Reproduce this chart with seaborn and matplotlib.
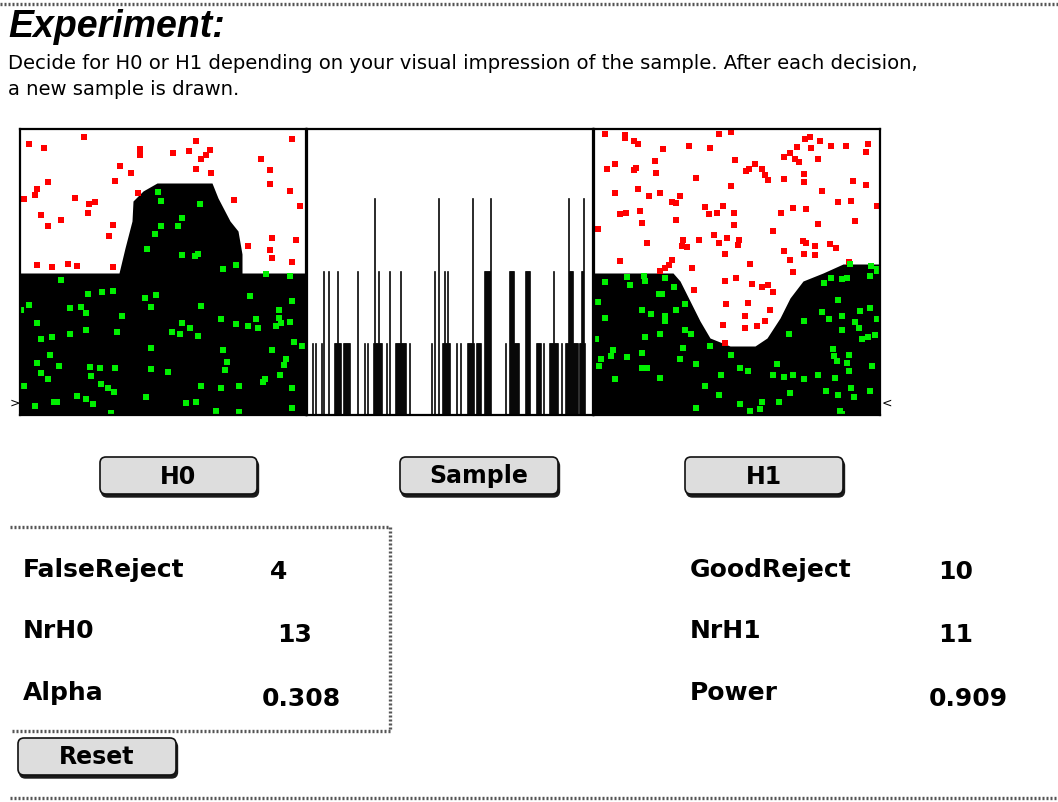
import matplotlib
matplotlib.use("Agg")
import matplotlib.pyplot as plt
from matplotlib.patches import FancyBboxPatch
import numpy as np
import pandas as pd
import seaborn as sns

# ---- data (panel pixel units, y measured from panel bottom) ----
# H0 density outline
h0_curve_x = [0, 99, 105, 112, 113, 123, 137, 192, 198, 210, 218, 222, 222, 286]
h0_curve_y = [142, 142, 167, 194, 214, 224, 232, 232, 217, 194, 184, 161, 142, 142]

# H1 density outline
h1_curve_x = [0, 79, 86, 96, 106, 116, 136, 161, 173, 186, 196, 209, 229, 249, 263, 286]
h1_curve_y = [142, 142, 134, 114, 94, 77, 69, 69, 77, 97, 117, 134, 142, 151, 151, 151]

# H0 panel: rejected (red) and accepted (green) points
h0_red_x = [9, 24, 64, 120, 120, 153, 169, 176, 190, 186, 181, 241, 272, 100, 111, 176,
            191, 250, 28, 95, 250, 17, 15, 4, 55, 118, 69, 75, 68, 214, 270, 280,
            21, 41, 28, 93, 89, 228, 252, 276, 250, 252, 17, 32, 48, 57, 93, 272]
h0_red_y = [271, 267, 278, 266, 260, 262, 264, 274, 265, 260, 256, 256, 276, 249, 242, 246,
            242, 245, 233, 234, 231, 226, 220, 216, 217, 222, 211, 213, 202, 215, 224, 209,
            200, 195, 189, 190, 179, 169, 177, 175, 165, 157, 150, 148, 151, 149, 148, 153]

h0_green_x = [138, 141, 180, 162, 158, 141, 135, 127, 162, 178, 175, 216, 203,
              246, 270, 41, 68, 82, 93, 125, 136, 230, 272, 9, 1, 50, 61, 66, 131, 181,
              259, 102, 201, 17, 162, 170, 216, 228, 236, 238, 259, 261, 256, 270, 66,
              97, 50, 32, 21, 152, 160, 178, 274, 282, 131, 203, 252, 30, 17, 39, 70,
              80, 95, 131, 148, 207, 205, 266, 264, 21, 28, 71, 245, 243, 260, 4, 81,
              88, 94, 181, 201, 219, 272, 57, 66, 73, 126, 34, 37, 15, 166, 176, 91,
              196, 219, 272]
h0_green_y = [223, 214, 211, 197, 189, 189, 181, 166, 160, 161, 159, 150, 146,
              141, 139, 135, 121, 123, 124, 117, 120, 119, 114, 110, 105, 107, 108, 102, 108, 109,
              105, 99, 96, 92, 92, 87, 91, 89, 96, 87, 97, 92, 89, 93, 85,
              83, 81, 78, 76, 83, 81, 79, 73, 69, 67, 65, 65, 60, 52, 49, 48,
              47, 47, 46, 43, 53, 45, 56, 50, 42, 36, 39, 36, 33, 40, 29, 31,
              27, 23, 29, 27, 29, 27, 19, 16, 11, 18, 13, 13, 9, 12, 13, 2,
              4, 3, 7]

# H1 panel points
h1_red_x = [11, 31, 31, 40, 44, 69, 95, 116, 125, 137, 141, 13, 21, 40, 42, 61, 62, 102,
            137, 152, 155, 161, 168, 171, 174, 190, 196, 203, 201, 205, 211, 216, 217, 226,
            237, 252, 274, 272, 224, 190, 210, 210, 228, 259, 272, 21, 44, 55, 66, 78, 82,
            86, 26, 32, 46, 48, 82, 111, 115, 123, 129, 140, 140, 187, 199, 212, 244, 257,
            283, 261, 224, 4, 179, 53, 89, 88, 93, 105, 120, 125, 133, 145, 144, 190, 209,
            212, 221, 221, 210, 236, 242, 131, 26, 78, 75, 71, 66, 98, 156, 196, 199, 255,
            131, 142, 158, 168, 174, 179, 100, 132, 154, 176, 151, 171, 129, 151, 163, 131]
h1_red_y = [281, 280, 277, 274, 271, 266, 269, 267, 281, 283, 255, 246, 251, 245, 247, 254, 242, 237,
            229, 244, 246, 251, 246, 240, 235, 258, 262, 268, 256, 253, 276, 278, 267, 274,
            269, 269, 271, 263, 256, 236, 241, 233, 224, 234, 230, 222, 226, 219, 222, 213, 212,
            219, 201, 202, 204, 192, 195, 208, 201, 202, 209, 202, 190, 202, 207, 206, 213, 214,
            209, 194, 191, 186, 184, 172, 175, 169, 168, 175, 180, 172, 177, 175, 170, 164, 174,
            172, 169, 160, 161, 171, 167, 161, 154, 155, 150, 147, 144, 147, 151, 155, 143, 153,
            134, 137, 131, 128, 130, 123, 125, 111, 112, 105, 99, 94, 90, 87, 89, 72]

h1_green_x = [11, 33, 36, 50, 51, 71, 80, 65, 68, 4, 48, 57, 71, 71, 82, 91, 11, 51, 66, 91,
              97, 2, 89, 116, 86, 102, 48, 33, 19, 17, 7, 5, 48, 53, 66, 21, 137, 146, 154,
              127, 111, 125, 102, 146, 156, 166, 168, 185, 196, 183, 179, 190, 199, 210, 224,
              241, 232, 244, 260, 257, 276, 195, 210, 228, 235, 248, 248, 244, 230, 237, 248,
              253, 276, 283, 266, 276, 283, 261, 265, 268, 274, 281, 239, 240, 243, 255, 253,
              255, 278, 246, 248, 256, 277, 283]
h1_green_y = [133, 138, 130, 139, 134, 137, 128, 121, 121, 113, 105, 101, 99, 94, 105, 111, 97, 78, 81, 85,
              81, 76, 67, 69, 56, 51, 62, 58, 65, 59, 56, 49, 47, 47, 37, 36, 60, 47, 44,
              40, 29, 20, 7, 11, 4, 6, 13, 13, 22, 51, 40, 38, 40, 36, 40,
              37, 24, 20, 18, 27, 24, 81, 94, 103, 96, 99, 85, 115, 132, 137, 136,
              137, 139, 144, 104, 107, 96, 93, 87, 76, 78, 80, 66, 59, 54, 60, 52,
              44, 49, 4, 1, 151, 149, 146]

# sample drawn (pixel position across the middle panel; repeats stack up)
sample_px = [5, 8, 14, 16, 16, 21, 21, 27, 28, 29, 30, 30, 31, 32, 33, 36, 37, 38, 39, 40, 41, 42,
             50, 50, 57, 60, 66, 67, 67, 67, 68, 69, 70, 71, 71, 72, 73, 74, 79, 82, 82,
             88, 89, 90, 91, 92, 93, 93, 94, 95, 96, 97, 98, 102, 124, 127, 127, 131, 131, 131,
             135, 136, 137, 137, 138, 139, 140, 140, 141, 142, 149, 153,
             160, 161, 162, 163, 164, 165, 165, 165, 166, 169, 170, 171, 172, 173,
             177, 177, 178, 178, 179, 179, 180, 180, 181, 181, 182, 182, 183, 183, 183,
             198, 202, 202, 203, 203, 204, 204, 205, 205, 206, 206, 207, 208, 209, 210, 211,
             218, 218, 219, 219, 220, 220, 221, 221, 222, 222, 229, 230, 231, 232, 233, 236,
             242, 243, 244, 245, 246, 246, 247, 248, 249, 250, 254,
             258, 259, 260, 261, 261, 261, 262, 262, 263, 263, 264, 264, 265, 265, 266, 267, 268, 269, 270,
             272, 273, 274, 274, 275, 275, 276, 276, 276, 277]

# counters
false_reject, nr_h0 = 4, 13
good_reject, nr_h1 = 10, 11
left_labels = ["FalseReject", "NrH0", "Alpha"]
right_labels = ["GoodReject", "NrH1", "Power"]
left_values = [str(false_reject), str(nr_h0), f"{false_reject / nr_h0:.3f}"]
right_values = [str(good_reject), str(nr_h1), f"{good_reject / nr_h1:.3f}"]
button_labels = ["H0", "Sample", "H1", "Reset"]

# ---- figure ----
sns.set_style("white")
plt.rcParams['font.family'] = ['DejaVu Sans']
plt.rcParams['text.color'] = 'black'

W, H = 1058, 802
fig = plt.figure(figsize=(W / 100, H / 100), dpi=100)
fig.patch.set_facecolor("white")

ui = fig.add_axes([0, 0, 1, 1])
ui.set_xlim(0, W)
ui.set_ylim(H, 0)
ui.axis("off")


def panel(x0):
    ax = fig.add_axes([x0 / W, (H - 415) / H, 286 / W, 286 / H])
    ax.set_facecolor("white")
    for sp in ax.spines.values():
        sp.set_visible(True)
        sp.set_color("black")
        sp.set_linewidth(1.6)
    return ax


def finish(ax, ymax):
    ax.set_xlim(0, 286)
    ax.set_ylim(0, ymax)
    ax.set_xticks([])
    ax.set_yticks([])
    ax.set_xlabel("")
    ax.set_ylabel("")


# H0 panel
ax0 = panel(20)
ax0.fill_between(h0_curve_x, 0, h0_curve_y, color="black", lw=0)
sns.scatterplot(x=h0_red_x, y=h0_red_y, ax=ax0, marker="s", s=18, color="#ff0000", linewidth=0)
sns.scatterplot(x=h0_green_x, y=h0_green_y, ax=ax0, marker="s", s=18, color="#00f000", linewidth=0)
finish(ax0, 286)

# sample panel
ax1 = panel(307)
sns.histplot(x=sample_px, binwidth=1, binrange=(0, 286), ax=ax1, color="black",
             alpha=1, edgecolor="black", linewidth=0.45)
finish(ax1, 3.96)

# H1 panel
ax2 = panel(594)
ax2.fill_between(h1_curve_x, 0, h1_curve_y, color="black", lw=0)
sns.scatterplot(x=h1_red_x, y=h1_red_y, ax=ax2, marker="s", s=18, color="#ff0000", linewidth=0)
sns.scatterplot(x=h1_green_x, y=h1_green_y, ax=ax2, marker="s", s=18, color="#00f000", linewidth=0)
finish(ax2, 286)

# ---- interface around the plots ----
dotted = dict(color="#555555", lw=2.4, linestyle=(0, (0.6, 0.6)))
ui.plot([0, W], [4, 4], **dotted)
ui.plot([10, W], [798, 798], **dotted)
ui.plot([10, 390, 390, 10], [527, 527, 731, 731], **dotted)

ui.text(8, 37, "Experiment:", fontsize=27, fontweight="bold", fontstyle="italic",
        family="Liberation Sans", va="baseline")
ui.text(8, 69, "Decide for H0 or H1 depending on your visual impression of the sample. After each decision,",
        fontsize=14.1, va="baseline")
ui.text(8, 95, "a new sample is drawn.", fontsize=14.1, va="baseline")

ui.text(10, 407, ">", fontsize=9, va="baseline")
ui.text(882, 407, "<", fontsize=9, va="baseline")


def button(x, y, w, h, label):
    style = "round,pad=0,rounding_size=6"
    ui.add_patch(FancyBboxPatch((x + 1.5, y + 3), w, h, boxstyle=style, fc="#1a1a1a", ec="#1a1a1a", lw=1))
    ui.add_patch(FancyBboxPatch((x, y), w, h, boxstyle=style, fc="#dddddd", ec="#111111", lw=1.2))
    ui.text(x + w / 2, y + h / 2 + 1, label, ha="center", va="center", fontsize=17, fontweight="bold")


button(100, 457, 157, 37, button_labels[0])
button(400, 457, 158, 37, button_labels[1])
button(685, 457, 158, 37, button_labels[2])
button(18, 738, 158, 37, button_labels[3])

label_base = [577, 638, 700]
value_base = [579, 642, 706]
left_val_x = [270, 277, 262]
right_val_x = [938, 938, 929]
for i in range(3):
    ui.text(23, label_base[i], left_labels[i], fontsize=18, fontweight="bold", va="baseline")
    ui.text(left_val_x[i], value_base[i], left_values[i], fontsize=18, fontweight="bold", va="baseline")
    ui.text(690, label_base[i], right_labels[i], fontsize=18, fontweight="bold", va="baseline")
    ui.text(right_val_x[i], value_base[i], right_values[i], fontsize=18, fontweight="bold", va="baseline")

fig.savefig("out.png", dpi=100)
